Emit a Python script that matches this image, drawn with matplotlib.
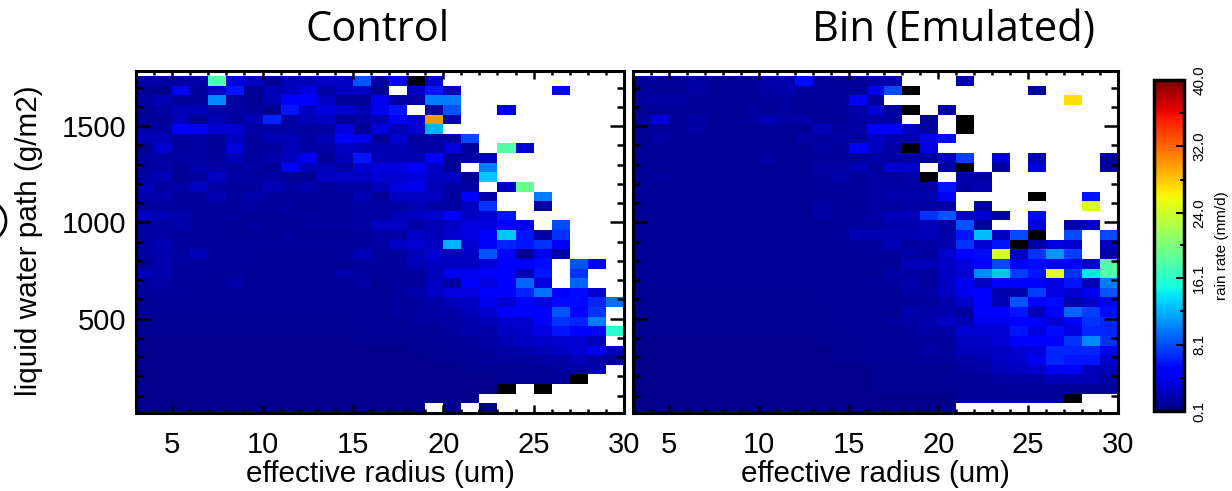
import numpy as np
import matplotlib
matplotlib.use('Agg')
import matplotlib.pyplot as plt
from matplotlib.patches import Ellipse

n = np.nan  #empty bin, white
B = 99.0    #off scale bin, black

#rain rate (mm/d), one row per lwp bin from the top down, one column per um bin
control_rain = [
[1.5,1.5,1.5,1.5,18,3.5,2.5,1,2,2,2.5,2.5,8.5,1.5,5,B,3,n,n,n,n,n,n,n,n,n,n],
[1,.7,4.5,1.2,2.5,6,1,2,2.5,3.5,1.5,2.5,2.5,1,n,2.5,6,2,n,n,n,n,n,4.5,n,n,n],
[1.5,2,1,1.2,10.5,1.2,1,2,4.5,5,2.5,1,1,4,1.5,1.5,10,10,n,n,n,n,n,n,n,n,n],
[1,1.5,2,2,1.5,1.5,1.2,.8,6,2.5,3.5,3,2,4,6,n,1.2,8.5,n,n,3.5,n,n,n,n,n,n],
[1.2,1,2,1,2,1.2,2,6.5,1.5,2,2.5,1,1.5,2,5,3.5,30,1.8,n,n,n,n,n,n,n,n,n],
[1.5,1.5,4.5,4.5,3,3,1.5,1.5,1.5,1.3,1.5,3.5,1,3.5,2,3,12,n,n,n,n,n,n,n,n,n,n],
[2,2.2,1.2,1.5,1,2.5,1.2,2,2,1.5,2,4.5,4,1,3,1.3,1.5,1.5,8,n,n,n,n,n,n,n,n],
[1,3,1.2,1.5,1,3.5,1.2,1.2,2,1.5,1.5,2.5,2,2,2,1.5,1.5,3.5,1.3,n,18,3,n,n,n,n,n],
[1.5,1.5,1.5,1.5,1.3,2,1.2,1.8,2.5,4,1,2,6,2,2,2,4.5,1,1.5,2,n,n,n,n,n,n,n],
[1.5,1.5,1,1.8,1.5,1.3,1.5,1,4.5,2,2,1.5,3,3.5,3.5,4.5,2.5,1,n,10,n,n,n,n,n,n,n],
[1.5,2,1,1.2,2.5,1.5,1.2,1.5,1,1,2.5,2.5,2.5,3,3,3.5,2.5,2.5,1,13,n,n,n,n,n,n,n],
[2,1.2,1.5,2.5,1.5,1.3,1.2,2,1.5,1.8,1.3,1.5,1.5,2,3.5,4,2,1.5,1.5,n,2.5,19,n,n,n,n,n],
[1.8,1.8,1.3,1.3,2,1.3,1.8,1.2,1.2,1.2,1.2,1.3,2,1,2.5,2.5,2.5,1.3,4.5,1.5,n,n,10,n,n,n,n],
[1.2,1.2,1.3,1.3,1.3,1.2,1.2,1.2,1.2,1,1.2,1.2,1.5,1.5,1.5,2,1.5,1.5,2.5,7,n,n,1.5,n,n,n,n],
[2.5,2,1.8,1.3,1.2,1.3,1,1,1.2,1.2,1.2,1.2,1.5,1.5,2,2.5,3,4.5,2.5,3,6,n,n,n,n,n,n],
[1.5,1.5,1.8,1.3,1.3,1,1.2,1,1,1.2,1.2,1.2,1.5,2.5,2.5,1.5,2,2.5,3.5,3.5,4.5,4,n,8,n,n,n],
[1.5,1.5,1.3,1.3,1.3,1,1,1,1.2,1,1,1,1.2,1.5,1.5,2.5,2,3,3.5,5,13,6,1.5,7,n,n,n],
[1.5,2,1.3,1.3,1.3,1.2,1.2,1.2,1.2,1.2,1.3,1.2,1.2,1.5,2.5,3,2.5,12,3,4.5,6.5,6,7,5,n,n,n],
[1.5,1.8,1.2,2,1.2,1.2,1.1,1.1,1.1,1.1,1.1,1.2,2,1.2,1.3,2,3,2,2.5,8.5,4.5,1,4,1.5,n,n,n],
[1,1.8,1.2,1.2,1.2,1.1,1.1,1.1,1,1,1,1,1.2,1.3,1.3,2,2.5,2.5,2.5,3.5,4.5,4.5,5.5,n,8.5,5,n],
[2,1.8,1.2,1.1,1.1,1.1,1,1,1,1,1,1.6,1.2,1.2,1.2,1.2,2,4,4,4.5,4.5,2,6,n,7,n,n],
[1.3,1.5,1.1,1.1,1.1,1.6,1,1,1,1,1,1,1.5,1,1.2,1.3,2.5,1.5,5,3.5,4.5,9,3.5,n,9,n,n],
[1.2,1.2,1.1,1,1,1,1,1,1,.9,.9,1,1,1,1.2,1.8,2.5,3.5,3.5,4.5,4.5,6.5,9.5,5,5.5,3,n],
[1,1,1,1,.9,.9,.9,.9,.9,.9,.9,.9,.9,1.1,1.2,1.3,1.6,2,2.5,4,3,5,3.5,5.5,5.5,6.5,9.5],
[.9,.9,.9,.9,.9,.9,.9,.9,.9,.9,.9,.9,.9,1,1.2,1.2,1.5,1.6,2,3,4.5,5,5,8.5,5,7,n],
[.8,.8,.8,.8,.8,.8,.8,.8,.8,.8,.8,.8,.9,1,1,1.2,1.2,1.5,1.8,2.2,2.8,3,4.5,7,6.5,10,n],
[.8,.8,.8,.8,.8,.8,.8,.8,.8,.8,.8,.8,.8,.9,1,1,1,1.2,1.8,1.5,2.5,2.8,3.5,6,5,4.5,16],
[.7,.7,.7,.7,.7,.7,.7,.7,.7,.7,.7,.7,.8,.8,.8,.8,1,1,1.2,1.5,2,2.5,2.8,3,3,2.2,n],
[.7,.7,.7,.7,.7,.7,.7,.7,.7,.7,.7,.7,.7,.7,.7,.8,.8,.9,1,1.2,1.5,1.8,2,2.5,3,4,2],
[.7,.7,.7,.7,.7,.7,.7,.7,.7,.7,.7,.7,.7,.7,.7,.7,.8,.8,.9,1.1,1.2,1.2,1.5,1.5,2,1.5,1],
[.7,.7,.7,.7,.7,.7,.7,.7,.7,.7,.7,.7,.7,.7,.7,.7,.7,.7,.8,.8,.9,1,1,1.2,1.5,1.8,n],
[.6,.6,.6,.6,.6,.6,.6,.6,.6,.6,.6,.6,.6,.7,.7,.7,.7,.7,.7,.7,.8,.8,.9,1,B,n,n],
[.6,.6,.6,.6,.6,.6,.6,.6,.6,.6,.6,.6,.6,.6,.6,.6,.6,.6,.6,.6,B,n,B,n,n,n,n],
[.6,.6,.6,.6,.6,.6,.6,.6,.6,.6,.6,.6,.6,.6,.6,.6,.6,.6,.6,n,n,n,n,n,n,n,n],
[.6,.6,.6,.6,.6,.6,.6,.6,.6,.6,.6,.6,.6,.6,.6,.6,n,.6,n,.6,n,n,n,n,n,n,n],
]

bin_rain = [
[1.1,1.1,1.1,1.5,1,1,1,1.8,1.8,5.5,1.2,1,1,1.7,1.7,n,n,n,1.5,n,n,n,n,n,n,n,n],
[1,1,1,1.4,1,1,1,1.5,1.7,1.1,1.3,1.1,1.1,4,8,B,n,n,n,n,n,n,1.3,n,n,n,n],
[1.2,1.4,1.4,1,1,1,1,1.2,1.3,1,1.2,1.3,4.5,1.3,n,n,n,n,n,n,n,n,n,n,27,n,n],
[1,1,1,1,1,1,1.2,1,1.2,1,1,1.2,1.5,3,1.5,B,n,1.5,n,n,n,n,n,n,n,n,n],
[1.2,3.5,1,1.6,1,1,1.2,2,1.4,1.6,1,1,1.4,1.5,1.5,n,1.3,n,B,n,n,n,n,n,n,n,n],
[1,1.1,1,1.5,1,1,1,1,1,1,2.2,1.2,1.5,4.5,4.5,2.5,1.2,n,B,n,n,n,n,n,n,n,n],
[1,1.4,1,1,1,1,1,1,1,1.4,1.2,1.5,1,2.5,1.8,1.8,4.5,5.5,n,n,n,n,n,n,n,n,n],
[1,1,1,1,1,1,1,1,1,1,1.5,1.3,4.5,2.5,1.5,B,3.5,n,n,n,n,n,n,n,n,n,n],
[1,1,1,1,1,1,1,1.4,1,1,1.2,1.3,1.2,1.5,1.5,1.5,1.5,2,7.5,n,3,n,2,n,n,n,1.2],
[1,1,1,1,1,1,1,1,1,1,1.5,1.5,2,1.2,3,2.8,n,1.5,B,n,1.3,n,3.5,n,n,n,1.2],
[1,1.2,1,1,1,1,1,1,1,1,1.3,1.7,1.1,1.5,1.3,1.5,B,n,1.8,1.5,n,n,n,n,n,n,n],
[1.1,1,1,1,1,1,1,1,1,1,1.3,1.3,1.1,1.5,1.5,1.5,1.5,6,1.5,2,n,n,n,n,n,n,n],
[1,1,1,1,1,1,1,1,1,1,1.1,1.1,1.3,1.5,1.8,1.8,1.8,4.5,n,n,n,n,B,n,n,6,n],
[1,1,1,1,1,1,1,1,1,1,1.4,1.1,1.1,1.5,1.3,1.6,1.5,1.5,n,1.3,n,n,n,n,n,24.5,n],
[1,1,1,1,1,1,1,1,1,1,1.6,1.1,1.2,1.5,2,2.2,7,8.5,2.5,3,1.5,n,5.5,n,n,n,n],
[1,1,1,1,1,1,1,1,1,1,1,1.1,1.2,1.2,1.7,1.7,2.2,1.5,8.5,1.2,n,n,3.5,n,1.8,2.5,n],
[1,1,1,1,1,1,1,1,1,1,1.1,1.2,2,2,2,2,2.2,1.7,6,12.5,2.2,8,B,n,8,n,8],
[1,1,1,1,1,1,1,1,1,1,1,1.1,1.2,1.3,2,1.3,1.5,1.8,7,3,6,B,1.5,3.5,3,n,2.5],
[.9,.9,.9,.9,.9,.9,.9,.9,.9,.9,.9,1,1.1,1.2,1.2,1.6,1.2,3,4.5,5.5,24.5,2.5,7,11,7.5,n,1.5],
[.9,.9,.9,.9,.9,.9,.9,.9,.9,.9,.9,1,1,1.1,1.1,2,2,2.5,3.5,4.5,8,4.5,5.5,4,4.5,3,18],
[.9,.9,.9,.9,.9,.9,.9,.9,.9,.9,.9,.9,1,1,1.6,1.5,1.2,2.5,3,10.5,13,7.5,6,25,7,14,18],
[.9,.9,.9,.9,.9,.9,.9,.9,.9,.9,.9,1,1.1,1.2,1.2,1.8,1.3,2.5,4,2.5,4.5,5,5,3.5,6,2,10],
[.8,.8,.8,.8,.8,.8,.8,.8,.8,.8,.9,.9,1,1,1,1.6,1.4,2.5,4,4.5,1.8,1.8,7.5,3.5,3,4,8.5],
[.8,.8,.8,.8,.8,.8,.8,.8,.8,.8,.9,.9,1,1,1.1,1.1,1.2,1.8,2.8,4.5,2,8.5,5,5.5,1.7,2.7,4.5],
[.8,.8,.8,.8,.8,.8,.8,.8,.8,.8,.8,.9,.9,1,1,1.7,1.6,1.8,1.3,4.5,4.5,6,2,5,9,7.5,5.5],
[.8,.8,.8,.8,.8,.8,.8,.8,.8,.8,.8,.9,.9,1,1.3,1.5,1.8,2.5,2,4,4,4.5,5,3,5,7,6.5],
[.8,.8,.8,.8,.8,.8,.8,.8,.8,.8,.8,.8,.9,1,1,1.2,1.6,1.4,3,3,3,6,3.5,5.5,3.5,6.5,6.5],
[.7,.7,.7,.7,.7,.7,.7,.7,.7,.7,.8,.8,.8,.9,1,1.1,1.2,1.2,2.5,2.5,3,5,5,4.5,7,10.5,7],
[.7,.7,.7,.7,.7,.7,.7,.7,.7,.7,.7,.8,.8,.9,.9,1,1.5,1.2,2.2,2.2,2.5,3,3.5,6.5,6.5,6.5,4],
[.7,.7,.7,.7,.7,.7,.7,.7,.7,.7,.7,.8,.8,.9,.9,.9,1.1,1.1,1.5,1.7,2.5,2.8,4,6.5,6,6,3],
[.7,.7,.7,.7,.7,.7,.7,.7,.7,.7,.7,.7,.7,.8,.8,.8,.8,1,1.2,1.4,2,2.3,2.8,4,4.5,2.2,2],
[.7,.7,.7,.7,.7,.7,.7,.7,.7,.7,.7,.7,.7,.8,.8,.8,.8,.9,1,1,1.4,1.6,1.4,2,2.2,2,1.5],
[.7,.7,.7,.7,.7,.7,.7,.7,.7,.7,.7,.7,.7,.8,.8,.8,.8,.8,1,1,1.1,1.2,1.2,1.1,1.1,1.1,1.2],
[.6,.6,.6,.6,.6,.6,.6,.6,.6,.6,.6,.6,.6,.7,.7,.7,.7,.7,.9,.9,.9,1,1,1.1,B,n,n],
[.6,.6,.6,.6,.6,.6,.6,.6,.6,.6,.6,.6,.6,.6,.6,.6,.6,.6,n,n,n,n,n,n,n,n,n],
]

titles = ['Control', 'Bin (Emulated)']
re_edges = np.arange(3, 31)
lwp_edges = np.arange(1760, 9, -50)
cbar_ticks = [0.1, 8.1, 16.1, 24.0, 32.0, 40.0]
cbar_minor = [4.1, 12.1, 20.05, 28.0, 36.0]

W, H = 1232., 491.
sans = 'Liberation Sans'

cmap = plt.get_cmap('jet').copy()
cmap.set_bad('white')
cmap.set_over('black')

fig = plt.figure(figsize=(12.32, 4.91), dpi=100)


def px_axes(left, top, right, bottom):
    return fig.add_axes([left/W, 1-bottom/H, (right-left)/W, (bottom-top)/H])


ax1 = px_axes(136, 71, 624, 413)
ax2 = px_axes(633, 71, 1118, 413)

for ax, data, title in zip([ax1, ax2], [control_rain, bin_rain], titles):
    z = np.ma.masked_invalid(np.array(data, dtype=float))
    mesh = ax.pcolormesh(re_edges, lwp_edges, z, cmap=cmap, vmin=0.1, vmax=40)
    ax.set_xlim(3, 30)
    ax.set_ylim(10, 1786)
    ax.set_xticks([5, 10, 15, 20, 25, 30])
    ax.set_xticks(np.arange(3, 31), minor=True)
    ax.set_yticks([500, 1000, 1500])
    ax.set_yticks(np.arange(100, 1800, 100), minor=True)
    ax.tick_params(axis='x', which='major', direction='in', length=6, width=1.8,
                   top=True, labelsize=21, pad=13)
    ax.tick_params(axis='y', which='major', direction='in', length=10, width=1.8,
                   right=True, labelsize=21, pad=7)
    ax.tick_params(axis='x', which='minor', direction='in', length=3, width=1.8, top=True)
    ax.tick_params(axis='y', which='minor', direction='in', length=5, width=1.8, right=True)
    for lab in ax.get_xticklabels() + ax.get_yticklabels():
        lab.set_family(sans)
    for s in ax.spines.values():
        s.set_linewidth(2.2)
    ax.set_xlabel('effective radius (um)', family=sans, fontsize=21.4, labelpad=1)

ax2.tick_params(axis='y', labelleft=False)

fig.text(378/W, 1-30/H, titles[0], family='Open Sans', fontsize=30, ha='center', va='center')
fig.text(954/W, 1-30/H, titles[1], family='Open Sans', fontsize=30, ha='center', va='center')
fig.text(29/W, 1-241/H, 'liquid water path (g/m2)', family=sans, fontsize=21.4,
         rotation=90, ha='center', va='center')

#colorbar
cax = px_axes(1154, 80, 1184, 411)
cb = fig.colorbar(mesh, cax=cax, extend='neither')
cb.set_ticks(cbar_ticks)
cb.set_ticklabels(['%.1f' % t for t in cbar_ticks])
cax.set_yticks(cbar_minor, minor=True)
cax.tick_params(which='major', direction='in', length=6, width=1.5, right=True, labelsize=11, pad=6)
cax.tick_params(which='minor', direction='in', length=3, width=1.5, right=True)
for lab in cax.get_yticklabels():
    lab.set_rotation(90)
    lab.set_va('center')
    lab.set_family(sans)
cb.outline.set_linewidth(2.5)
fig.text(1222/W, 1-246/H, 'rain rate (mm/d)', family=sans, fontsize=11,
         rotation=90, ha='center', va='center')

#cut off circled panel letter at the left edge
fig.add_artist(Ellipse((-14/W, 1-221/H), 40/W, 40/H, transform=fig.transFigure,
                       fill=False, edgecolor='black', linewidth=2))

fig.savefig('out.png', dpi=100)
